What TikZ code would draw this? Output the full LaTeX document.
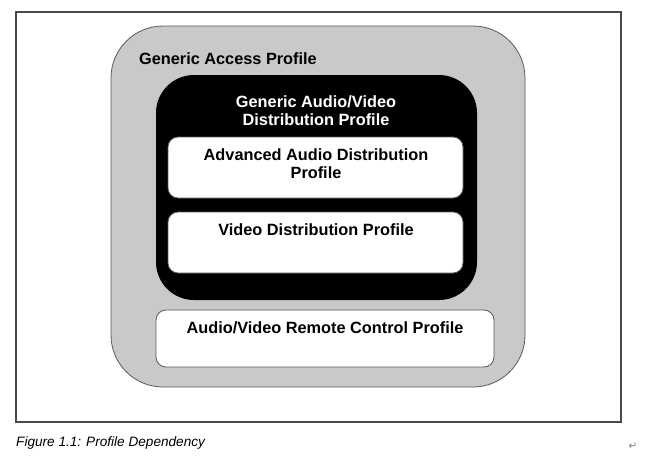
\documentclass[tikz,border=0pt]{standalone}
\usepackage{fontspec}
\setmainfont{Liberation Sans}
\newfontfamily\markfont{DejaVu Sans}
\usepackage{xcolor}
\definecolor{GAPcolor}{HTML}{C9C8CB}
\definecolor{GAPline}{HTML}{5A5A5A}
\definecolor{FRAMEline}{HTML}{4A4A4A}
\usepackage{tikz}
\usetikzlibrary{math}

\begin{document}
\begin{tikzpicture}[x=1pt, y=-1pt]
    \tikzset{%
        profile/.style={font=\bfseries\fontsize{16.3}{18.5}\selectfont, inner sep=0pt, align=center, anchor=north},
        innerbox/.style={draw=GAPline, fill=white, line width=0.8pt, rounded corners=10pt},
    }
    \tikzmath{%
        \xmid=316;
        \pad=11;
    };

    \useasboundingbox (0, 0) rectangle (649, 459);

    % frame
    \draw [FRAMEline, line width=1.4pt] (16, 12) rectangle (621, 422);

    % GAP
    \draw [GAPline, fill=GAPcolor, line width=0.8pt, rounded corners=52pt] (111, 26) rectangle (525, 387);
    \node [profile, anchor=base west] (gap) at (139, 64) {Generic Access Profile};

    % GAVDP
    \fill [black, rounded corners=38pt] (156, 75) rectangle (477, 300);
    \node [profile, white] (gavdp) at (\xmid, 95) {Generic Audio/Video\\Distribution Profile};

    % A2DP, VDP
    \foreach \ytop/\nm/\txt in {137/adp/{Advanced Audio Distribution\\Profile}, 212/vdp/{Video Distribution Profile}} {%
            \draw [innerbox] (168, \ytop) rectangle ++(295, 61);
            \node [profile] (\nm) at (\xmid, \ytop+\pad) {\txt};
        };

    % AVRCP
    \draw [innerbox] (156, 310) rectangle (494, 367);
    \node [profile] (avrcp) at (325, 310+\pad) {Audio/Video Remote Control Profile};

    % caption
    \node [anchor=base west, inner sep=0pt, font=\itshape\fontsize{13.6}{16}\selectfont] (caption) at (16, 446) {Figure 1.1: Profile Dependency};
    \node [inner sep=0pt, gray, font=\markfont\fontsize{10.5}{10.5}\selectfont] (retmark) at (633, 446) {↵};
\end{tikzpicture}
\end{document}
